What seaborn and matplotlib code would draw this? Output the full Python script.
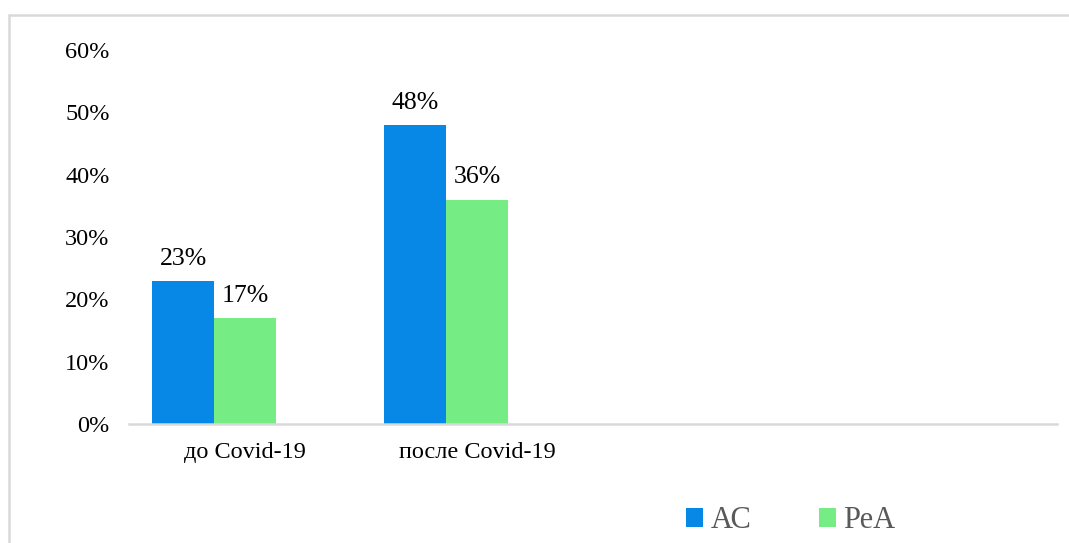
import matplotlib
matplotlib.use("Agg")
import matplotlib.pyplot as plt
from matplotlib.patches import Patch
from matplotlib.lines import Line2D
import pandas as pd
import seaborn as sns

# Share of patients (%) before and after Covid-19
periods = ["до Covid-19", "после Covid-19"]
series = ["АС", "РеА"]
ac_values = [23, 48]
rea_values = [17, 36]
y_ticks = [0, 10, 20, 30, 40, 50, 60]

blue = "#0888E6"
green = "#76EC84"

df = pd.DataFrame({
    "period": periods * 2,
    "group": [series[0]] * len(periods) + [series[1]] * len(periods),
    "value": ac_values + rea_values,
})

sns.set_theme(style="white")
plt.rcParams["font.family"] = ["Liberation Serif", "DejaVu Serif"]

fig = plt.figure(figsize=(10.69, 5.43), dpi=100)
ax = fig.add_axes([129 / 1069, 1 - 424 / 543, (1057 - 129) / 1069, (424 - 50) / 543])

# a third, empty slot in the hue order keeps the bar widths of a three-series layout
hue_levels = series + ["_empty"]
sns.barplot(data=df, x="period", y="value", hue="group", hue_order=hue_levels,
            palette=[blue, green, "#FFFFFF"], width=0.8, dodge=True,
            saturation=1, ax=ax, legend=False, errorbar=None, linewidth=0)

for container in ax.containers:
    ax.bar_label(container, labels=[f"{v:.0f}%" for v in container.datavalues],
                 padding=8, fontsize=18.5, color="black")

ax.set_xlim(-0.5, 3.5)
ax.set_ylim(0, 60)
ax.set_yticks(y_ticks)
ax.set_yticklabels([f"{t}%" for t in y_ticks])
ax.set_xlabel("")
ax.set_ylabel("")
ax.tick_params(axis="y", length=0, pad=14, labelsize=17.5, labelcolor="black")
ax.tick_params(axis="x", length=0, pad=13, labelsize=17.5, labelcolor="black")
for side in ["top", "right", "left"]:
    ax.spines[side].set_visible(False)
ax.spines["bottom"].set_color("#D9D9D9")
ax.spines["bottom"].set_linewidth(1.8)
ax.grid(False)

handles = [Patch(facecolor=blue, edgecolor="none"), Patch(facecolor=green, edgecolor="none")]
fig.legend(handles, series, loc="center", bbox_to_anchor=(791 / 1069, 1 - 521 / 543),
           ncol=2, frameon=False, fontsize=22, labelcolor="#595959",
           handlelength=0.55, handleheight=0.55, handletextpad=0.25, columnspacing=2.2)

# outer chart frame
frame_kw = dict(color="#D9D9D9", linewidth=1.8, transform=fig.transFigure)
fig.add_artist(Line2D([9 / 1069, 9 / 1069], [0, 1 - 15 / 543], **frame_kw))
fig.add_artist(Line2D([9 / 1069, 1], [1 - 15 / 543, 1 - 15 / 543], **frame_kw))

fig.savefig("out.png", dpi=100)
